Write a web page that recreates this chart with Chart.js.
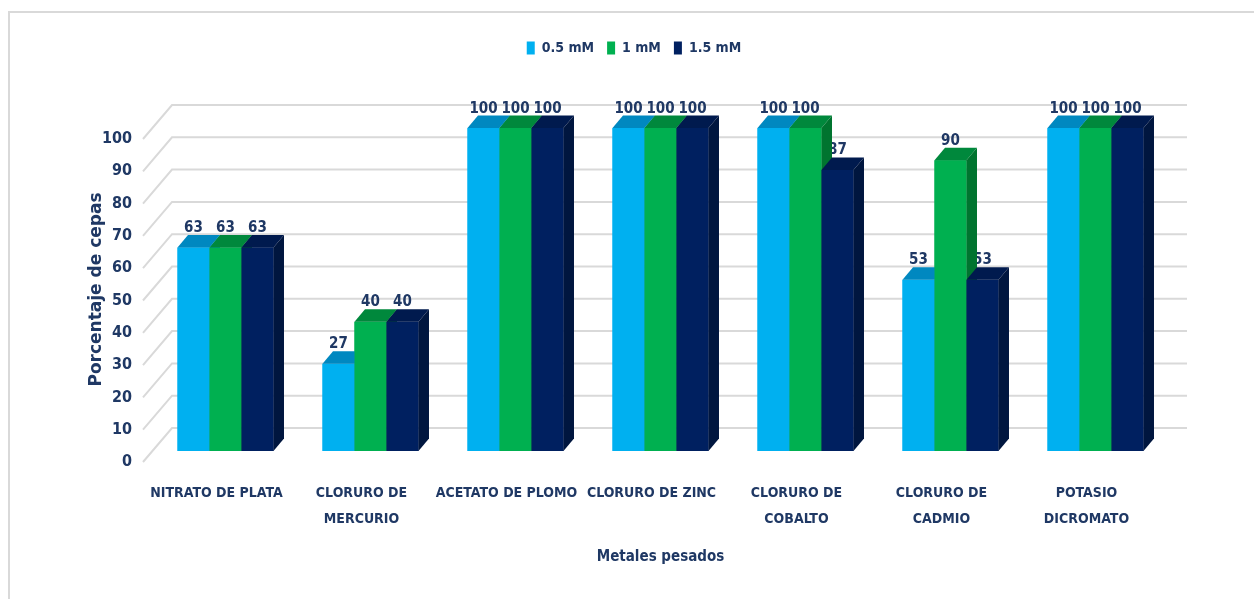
<!DOCTYPE html>
<html>
<head>
<meta charset="utf-8">
<script src="https://cdn.jsdelivr.net/npm/chart.js@4/dist/chart.umd.min.js"></script>
<style>
  body { margin: 0; background: #fff; }
  canvas { display: block; }
</style>
</head>
<body>
<canvas id="chart" width="1254" height="599"></canvas>
<script>
// Metals on the x axis, percentage of strains per concentration
const categories = [
  'NITRATO DE PLATA',
  ['CLORURO DE', 'MERCURIO'],
  'ACETATO DE PLOMO',
  'CLORURO DE ZINC',
  ['CLORURO DE', 'COBALTO'],
  ['CLORURO DE', 'CADMIO'],
  ['POTASIO', 'DICROMATO']
]
const seriesNames = ['0.5 mM', '1 mM', '1.5 mM']
const conc05 = [63, 27, 100, 100, 100, 53, 100]
const conc1 = [63, 40, 100, 100, 100, 90, 100]
const conc15 = [63, 40, 100, 100, 87, 53, 100]

const frontColors = ['#00B0F0', '#00B050', '#002060']
const topColors = ['#0088C0', '#00883C', '#001A4E']
const sideColors = ['#0093CC', '#00742F', '#00163F']
const textColor = '#1F3864'
const gridColor = '#D9D9D9'
const condensed = "'DejaVu Sans Condensed', 'DejaVu Sans', sans-serif"

// depth of a bar and of the walls, in pixels
const barDX = 10.5, barDY = -12.5
const wallFrontDX = -10, wallFrontDY = 11
const wallBackDX = 19, wallBackDY = -23

// Outer frame and the 3D gridlines (left side wall + back wall)
const wallPlugin = {
  id: 'wall',
  beforeDraw(chart) {
    const ctx = chart.ctx
    ctx.save()
    ctx.strokeStyle = gridColor
    ctx.lineWidth = 2
    ctx.beginPath()
    ctx.moveTo(9, chart.height)
    ctx.lineTo(9, 12)
    ctx.lineTo(chart.width, 12)
    ctx.stroke()
    ctx.restore()
  },
  beforeDatasetsDraw(chart) {
    const { ctx, chartArea } = chart
    const yScale = chart.scales.y
    ctx.save()
    ctx.strokeStyle = gridColor
    ctx.lineWidth = 2
    yScale.ticks.forEach(tick => {
      const y = yScale.getPixelForValue(tick.value)
      ctx.beginPath()
      ctx.moveTo(chartArea.left + wallFrontDX, y + wallFrontDY)
      ctx.lineTo(chartArea.left + wallBackDX, y + wallBackDY)
      ctx.lineTo(chartArea.right + wallBackDX, y + wallBackDY)
      ctx.stroke()
    })
    ctx.restore()
  }
}

const fillPoly = (ctx, pts, color) => {
  ctx.fillStyle = color
  ctx.beginPath()
  ctx.moveTo(pts[0][0], pts[0][1])
  for (let i = 1; i < pts.length; i++) ctx.lineTo(pts[i][0], pts[i][1])
  ctx.closePath()
  ctx.fill()
}

// Value labels, then front/top/side faces drawn left to right so each bar hides its neighbour's side
const bars3dPlugin = {
  id: 'bars3d',
  afterDatasetsDraw(chart) {
    const ctx = chart.ctx
    const metas = chart.data.datasets.map((ds, i) => chart.getDatasetMeta(i))
    ctx.save()
    ctx.font = `bold 15px ${condensed}`
    ctx.fillStyle = textColor
    ctx.textAlign = 'center'
    ctx.textBaseline = 'alphabetic'
    metas.forEach((meta, i) => {
      meta.data.forEach((bar, j) => {
        ctx.fillText(String(chart.data.datasets[i].data[j]), bar.x, bar.y - 15.5)
      })
    })
    categories.forEach((c, j) => {
      metas.forEach((meta, i) => {
        const bar = meta.data[j]
        const l = bar.x - bar.width / 2
        const r = bar.x + bar.width / 2
        const t = bar.y
        const b = bar.base
        ctx.fillStyle = frontColors[i]
        ctx.fillRect(l, t, r - l, b - t)
        fillPoly(ctx, [[l, t], [l + barDX, t + barDY], [r + barDX, t + barDY], [r, t]], topColors[i])
        fillPoly(ctx, [[r, t], [r + barDX, t + barDY], [r + barDX, b + barDY], [r, b]], sideColors[i])
      })
    })
    ctx.restore()
  }
}

new Chart(document.getElementById('chart'), {
  type: 'bar',
  data: {
    labels: categories,
    datasets: [conc05, conc1, conc15].map((values, i) => ({
      label: seriesNames[i],
      data: values,
      backgroundColor: frontColors[i],
      borderWidth: 0,
      barPercentage: 1,
      categoryPercentage: 0.662
    }))
  },
  options: {
    responsive: false,
    animation: false,
    layout: { padding: { top: 28, left: 100, right: 86, bottom: 0 } },
    plugins: {
      tooltip: { enabled: false },
      legend: {
        position: 'top',
        labels: {
          boxWidth: 8,
          boxHeight: 13,
          padding: 13,
          color: textColor,
          font: { family: condensed, size: 14, weight: 'bold' }
        }
      },
      // empty band between the legend and the plot
      subtitle: {
        display: true,
        text: '',
        weight: 500,
        font: { size: 10 },
        padding: { top: 51, bottom: 0 }
      }
    },
    scales: {
      x: {
        grid: { display: false, drawTicks: false },
        border: { display: false },
        ticks: {
          color: textColor,
          font: { family: condensed, size: 14, weight: 'bold', lineHeight: 1.86 },
          padding: 29,
          labelOffset: -9,
          maxRotation: 0,
          autoSkip: false
        },
        title: {
          display: true,
          text: 'Metales pesados',
          color: textColor,
          font: { family: condensed, size: 15, weight: 'bold' },
          padding: { top: 0, bottom: 33 }
        },
        afterFit(scale) { scale.height = 148 }
      },
      y: {
        min: 0,
        max: 100,
        grid: { display: false, drawTicks: false },
        border: { display: false },
        ticks: {
          stepSize: 10,
          color: textColor,
          font: { family: condensed, size: 16, weight: 'bold' },
          padding: 21,
          labelOffset: 11
        },
        title: {
          display: true,
          text: 'Porcentaje de cepas',
          color: textColor,
          font: { family: "'DejaVu Sans', sans-serif", size: 17, weight: 'bold' },
          padding: { top: -13.2, bottom: 0 }
        },
        afterFit(scale) { scale.width = 53 }
      }
    }
  },
  plugins: [wallPlugin, bars3dPlugin]
})
</script>
</body>
</html>
